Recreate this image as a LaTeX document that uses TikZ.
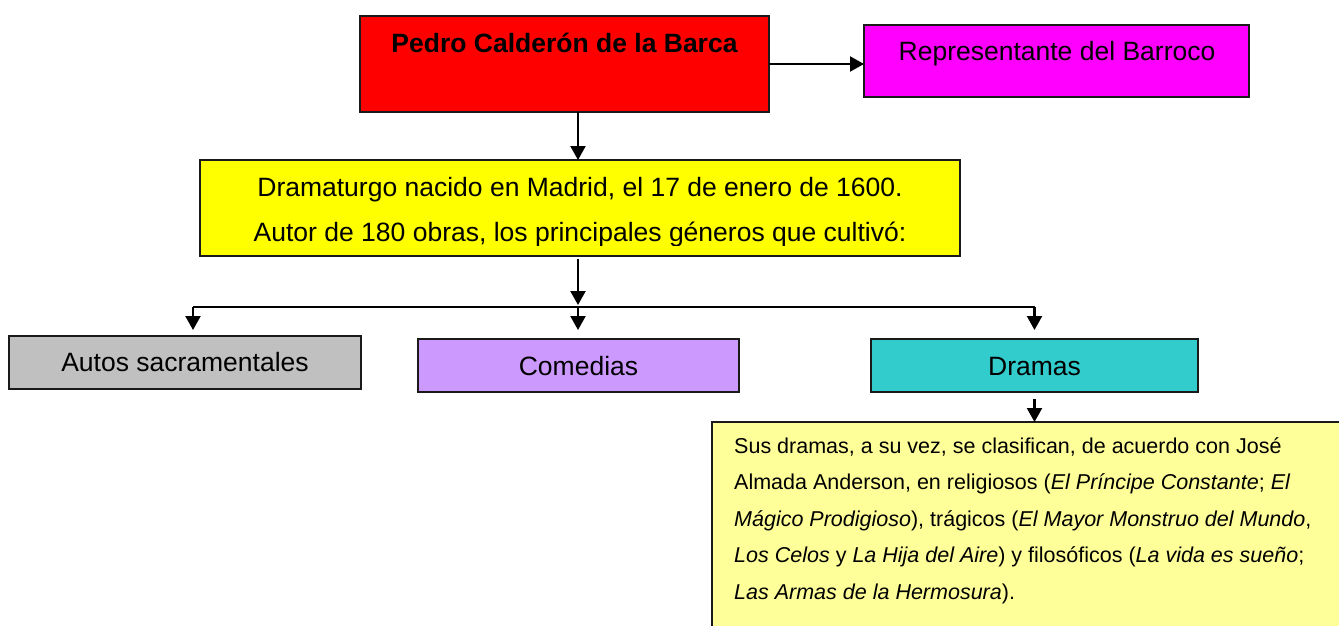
\documentclass[tikz,border=0pt]{standalone}
\usepackage{fontspec}
\setmainfont{Liberation Sans}
\usetikzlibrary{arrows.meta}
\definecolor{cred}{HTML}{FF0000}
\definecolor{cmag}{HTML}{FF00FF}
\definecolor{cyel}{HTML}{FFFF00}
\definecolor{cgray}{HTML}{C0C0C0}
\definecolor{cpurp}{HTML}{CC99FF}
\definecolor{cteal}{HTML}{33CCCC}
\definecolor{cnote}{HTML}{FFFF99}
\definecolor{cborder}{HTML}{1A1A1A}
\begin{document}
\begin{tikzpicture}[x=1pt,y=-1pt,
  box/.style={draw=cborder, line width=2.2pt, rectangle, inner sep=0pt, outer sep=0pt},
  big/.style={font=\fontsize{26.5}{30}\selectfont, inner sep=0pt, anchor=base},
  conn/.style={draw=black, line width=2.2pt, -{Triangle[length=14pt,width=15pt]}},
  plain/.style={draw=black, line width=2.2pt},
  ]
\clip (0,0) rectangle (1339,626);
\fill[white] (0,0) rectangle (1339,626);
% boxes
\node[box, fill=cred,  minimum width=409, minimum height=96] (pedro) at (564.5,64) {};
\node[box, fill=cmag,  minimum width=385, minimum height=72] (barroco) at (1056.5,61) {};
\node[box, fill=cyel,  minimum width=760, minimum height=96] (dramaturgo) at (580,208) {};
\node[box, fill=cgray, minimum width=352, minimum height=53] (autos) at (185,362.5) {};
\node[box, fill=cpurp, minimum width=321, minimum height=53] (comedias) at (578.5,365.5) {};
\node[box, fill=cteal, minimum width=327, minimum height=53] (dramas) at (1034.5,365.5) {};
\node[box, fill=cnote, minimum width=640, minimum height=220] (note) at (1032,532) {};
% texts
\node[big, font=\fontsize{26.5}{30}\selectfont\bfseries] (pedrot) at (564.5,53) {Pedro Calderón de la Barca};
\node[big] (barrocot) at (1057,61) {Representante del Barroco};
\begin{scope}
\clip (200,160) rectangle (960,245);
\node[big] (dram1) at (580,196) {Dramaturgo nacido en Madrid, el 17 de enero de 1600.};
\node[big] (dram2) at (580,241) {Autor de 180 obras, los principales géneros que cultivó:};
\end{scope}
\node[big] (autost) at (185,371) {Autos sacramentales};
\node[big] (comediast) at (578.5,375) {Comedias};
\node[big] (dramast) at (1034.5,375) {Dramas};
\node[inner sep=0pt, anchor=base west, align=left, font=\fontsize{21.5}{36.5}\selectfont] (notet) at (734,599)
{Sus dramas, a su vez, se clasifican, de acuerdo con José\\
Almada Anderson, en religiosos (\textit{El Príncipe Constante}; \textit{El}\\
\textit{Mágico Prodigioso}), trágicos (\textit{El Mayor Monstruo del Mundo},\\
\textit{Los Celos} y \textit{La Hija del Aire}) y filosóficos (\textit{La vida es sueño};\\
\textit{Las Armas de la Hermosura}).};
% branch coordinates
\coordinate (hub) at (578,307);
\coordinate (hubL) at (193,307);
\coordinate (hubR) at (1034.5,307);
% connectors
\draw[conn] (pedro.east) -- (pedro.east -| barroco.west);
\draw[conn] (pedro.south -| hub) -- (dramaturgo.north -| hub);
\draw[conn, shorten <=3pt, shorten >=2pt] (dramaturgo.south -| hub) -- (hub);
\draw[plain] (hubL) -- (hubR);
\draw[conn, shorten >=6pt] (hubL) -- (autos.north -| hubL);
\draw[conn, shorten >=9pt] (hub) -- (comedias.north -| hub);
\draw[conn, shorten >=9pt] (hubR) -- (dramas.north -| hubR);
\draw[conn, shorten <=7pt] (dramas.south) -- (note.north -| dramas.south);
\end{tikzpicture}
\end{document}
